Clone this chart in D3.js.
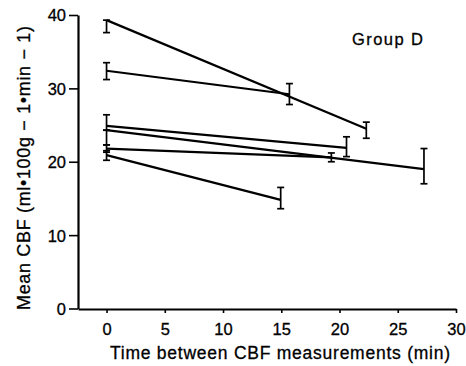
<!DOCTYPE html>
<html>
<head>
<meta charset="utf-8">
<script src="https://cdn.jsdelivr.net/npm/d3@7/dist/d3.min.js"></script>
<style>
  html, body { margin: 0; padding: 0; background: #fff; }
  svg { display: block; }
  text { font-family: "Liberation Sans", Arial, Helvetica, sans-serif; fill: #000; stroke: #000; stroke-width: 0.3px; }
</style>
</head>
<body>
<svg id="chart" width="466" height="366"></svg>
<script>
// ---- data ----
const xTicks = [0, 5, 10, 15, 20, 25, 30];
const yTicks = [0, 10, 20, 30, 40];
const startX   = [0, 0, 0, 0, 0, 0];
const startY   = [39.3, 32.4, 24.9, 24.3, 21.8, 20.9];
const startLo  = [37.6, 31.2, 24.3, 22.3, 21.3, 20.2];
const startHi  = [39.3, 33.5, 26.4, 24.3, 22.3, 21.5];
const endX     = [22.3, 15.7, 20.6, 27.25, 19.3, 14.95];
const endY     = [24.5, 29.2, 21.9, 19.0, 20.6, 14.8];
const endLo    = [23.2, 27.8, 20.7, 17.0, 20.0, 13.6];
const endHi    = [25.4, 30.65, 23.4, 21.8, 21.2, 16.5];
const xTitle = "Time between CBF measurements (min)";
const yTitle = "Mean CBF  (ml\u2022100g \u2212 1\u2022min \u2212 1)";
const groupLabel = "Group  D";

// ---- layout ----
const svg = d3.select("#chart");
const x = d3.scaleLinear().domain([-2.45, 30]).range([78, 456]);
const y = d3.scaleLinear().domain([0, 40]).range([308.5, 15]);
const axisY = 309;

// axes
const gx = svg.append("g").attr("transform", `translate(0,${axisY})`)
  .call(d3.axisBottom(x).tickValues(xTicks).tickSize(4).tickSizeOuter(0).tickPadding(10));
const gy = svg.append("g").attr("transform", `translate(78,0)`)
  .call(d3.axisLeft(y).tickValues(yTicks).tickSize(9).tickSizeOuter(0).tickPadding(3));

[gx, gy].forEach(g => {
  g.select(".domain").attr("stroke", "#000").attr("stroke-width", 2.2);
  g.selectAll(".tick line").attr("stroke", "#000").attr("stroke-width", 1.6);
  g.selectAll(".tick text").attr("font-size", 16.5)
    .attr("font-family", '"Liberation Sans", Arial, sans-serif').attr("fill", "#000");
});
gy.selectAll(".tick text").attr("dy", "0.36em");

// axis titles
svg.append("text").attr("x", 110).attr("y", 359).attr("font-size", 17.5)
  .attr("textLength", 340).attr("lengthAdjust", "spacing").text(xTitle);
svg.append("text")
  .attr("transform", "translate(30,310) rotate(-90)")
  .attr("font-size", 18).attr("textLength", 284).attr("lengthAdjust", "spacing")
  .text(yTitle);

// group label
svg.append("text").attr("x", 352).attr("y", 45).attr("font-size", 16.5)
  .attr("textLength", 71).attr("lengthAdjust", "spacing").text(groupLabel);

// series lines
const idx = d3.range(startY.length);
svg.append("g").selectAll("line").data(idx).join("line")
  .attr("x1", i => x(startX[i])).attr("y1", i => y(startY[i]))
  .attr("x2", i => x(endX[i])).attr("y2", i => y(endY[i]))
  .attr("stroke", "#000").attr("stroke-width", 2.2);

// error bars
const bars = [];
idx.forEach(i => {
  bars.push({ xv: startX[i], lo: startLo[i], hi: startHi[i] });
  bars.push({ xv: endX[i], lo: endLo[i], hi: endHi[i] });
});
const cap = 3.5;
const eb = svg.append("g").attr("stroke", "#000").attr("stroke-width", 1.7);
eb.selectAll("line.v").data(bars).join("line").attr("class", "v")
  .attr("x1", d => x(d.xv)).attr("x2", d => x(d.xv))
  .attr("y1", d => y(d.hi)).attr("y2", d => y(d.lo));
eb.selectAll("line.t").data(bars).join("line").attr("class", "t")
  .attr("x1", d => x(d.xv) - cap).attr("x2", d => x(d.xv) + cap)
  .attr("y1", d => y(d.hi)).attr("y2", d => y(d.hi));
eb.selectAll("line.b").data(bars).join("line").attr("class", "b")
  .attr("x1", d => x(d.xv) - cap).attr("x2", d => x(d.xv) + cap)
  .attr("y1", d => y(d.lo)).attr("y2", d => y(d.lo));
</script>
</body>
</html>
